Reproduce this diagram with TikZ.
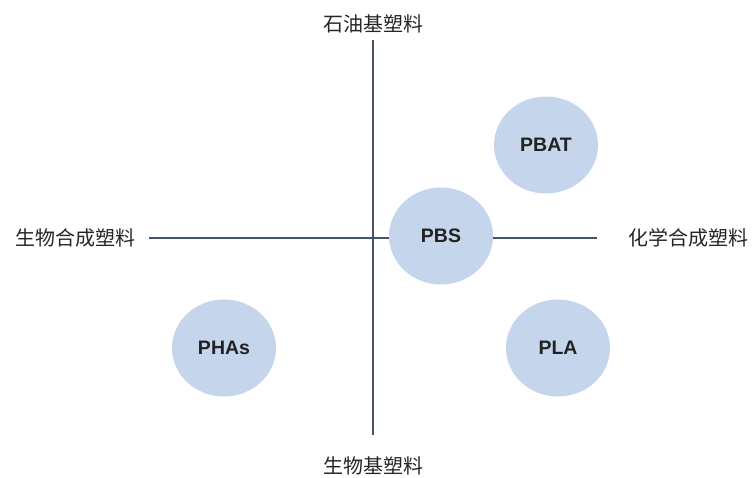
\documentclass[tikz,border=0pt]{standalone}
\usepackage{fontspec}
\setmainfont{Liberation Sans}
\newfontfamily\cjk{Noto Sans CJK SC}
\usetikzlibrary{shapes.geometric}
\definecolor{axiscol}{HTML}{44546A}
\definecolor{bubblefill}{HTML}{C5D6EC}
\definecolor{txtcol}{HTML}{222222}
\definecolor{lblcol}{HTML}{262626}
\begin{document}
\begin{tikzpicture}[x=1pt,y=-1pt,
  bubble/.style={ellipse, fill=bubblefill, minimum width=104pt, minimum height=97pt, inner sep=0pt,
    font=\fontsize{19.5}{21}\selectfont\bfseries, text=txtcol},
  axislabel/.style={font=\cjk\fontsize{20}{22}\selectfont, text=lblcol, inner sep=0pt},
  axisline/.style={draw=axiscol, line width=1.6pt}]
\useasboundingbox[fill=white] (0,0) rectangle (753,478);
\node[axislabel] (top) at (373,24) {石油基塑料};
\node[axislabel] (bottom) at (373,466) {生物基塑料};
\node[axislabel] (left) at (76,238) {生物合成塑料};
\node[axislabel] (right) at (688,238) {化学合成塑料};
\coordinate (vt) at (373,40);
\coordinate (vb) at (373,435);
\coordinate (hl) at (149,238);
\coordinate (hr) at (597,238);
\draw[axisline] (vt) -- (vb);
\draw[axisline] (hl) -- (hr);
\node[bubble] (pbs) at (441,236) {PBS};
\node[bubble] (pbat) at (546,145) {PBAT};
\node[bubble] (phas) at (224,348) {PHAs};
\node[bubble] (pla) at (558,348) {PLA};
\end{tikzpicture}
\end{document}
